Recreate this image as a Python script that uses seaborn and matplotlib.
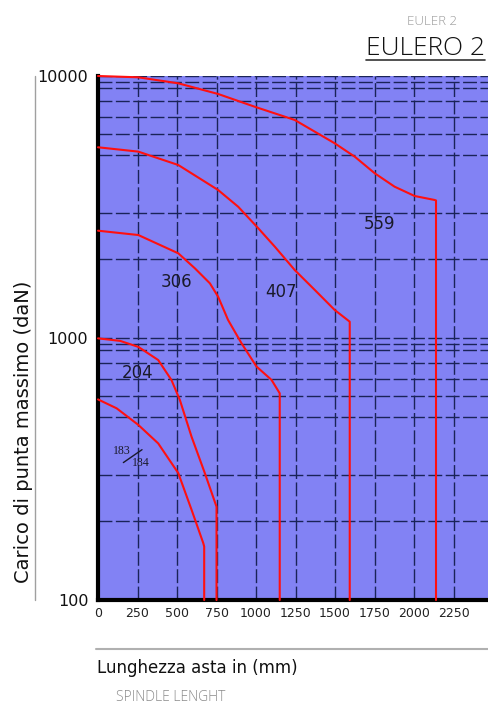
import matplotlib
matplotlib.use("Agg")
import matplotlib.pyplot as plt
import seaborn as sns
from matplotlib.lines import Line2D
from matplotlib.ticker import NullFormatter

sns.set_theme(style="white")
plt.rcParams['font.family'] = ['DejaVu Sans']

# ---- data ----
c559_x = [0, 255, 508, 760, 992, 1245, 1498, 1625, 1751, 1877, 2004, 2130, 2139, 2139]
c559_y = [10000, 9886, 9378, 8539, 7632, 6795, 5535, 4920, 4254, 3780, 3483, 3364, 3350, 100]

c407_x = [0, 255, 508, 760, 887, 1014, 1119, 1245, 1372, 1498, 1593, 1593]
c407_y = [5345, 5145, 4574, 3672, 3170, 2624, 2231, 1817, 1525, 1279, 1154, 100]

c306_x = [0, 255, 508, 613, 708, 760, 823, 908, 1003, 1098, 1150, 1150]
c306_y = [2568, 2472, 2105, 1845, 1617, 1438, 1172, 955, 778, 692, 615, 100]

c204_x = [0, 140, 255, 381, 465, 518, 592, 676, 750, 750]
c204_y = [997, 975, 925, 824, 691, 580, 420, 305, 227, 100]

c183_x = [0, 118, 255, 381, 508, 592, 666, 672, 672]
c183_y = [583, 539, 466, 396, 305, 221, 165, 160, 100]

curves = [(c559_x, c559_y), (c407_x, c407_y), (c306_x, c306_y),
          (c204_x, c204_y), (c183_x, c183_y)]

labels = ["559", "407", "306", "204"]
label_x = [1783, 1161, 497, 251]
label_y = [2723, 1500, 1630, 735]

x_ticks = [0, 250, 500, 750, 1000, 1250, 1500, 1750, 2000, 2250]
y_ticks = [100, 1000, 10000]
y_grid = [10000, 9500, 9000, 8000, 7000, 6000, 5000, 3000, 2000,
          1000, 950, 900, 800, 700, 600, 500, 300, 200]

W, H = 488, 704
fig = plt.figure(figsize=(W / 100, H / 100), dpi=100)
fig.patch.set_facecolor("white")
ax = fig.add_axes([98 / W, 1 - 600 / H, 1 - 98 / W, (600 - 76) / H])
ax.set_facecolor("#8282f4")

for xs, ys in curves:
    sns.lineplot(x=xs, y=ys, ax=ax, sort=False, estimator=None,
                 color="#ff1010", linewidth=1.5, zorder=5)
for line in ax.get_lines():
    line.set_clip_on(False)
    line.set_solid_joinstyle("round")

ax.set_yscale("log")
ax.set_ylim(100, 10000)
ax.set_xlim(0, 2468)

ax.set_xticks(x_ticks)
ax.set_xticklabels([str(v) for v in x_ticks], fontsize=9, color="#222222")
ax.set_yticks(y_ticks)
ax.set_yticklabels([str(v) for v in y_ticks], fontsize=11.5, color="#111111")
ax.set_yticks(y_grid, minor=True)
ax.yaxis.set_minor_formatter(NullFormatter())
ax.tick_params(axis="both", which="both", length=0)
ax.tick_params(axis="y", pad=7)
ax.tick_params(axis="x", pad=5)

ax.grid(True, axis="x", which="major", color="#1a2358", linewidth=1.0,
        linestyle=(0, (10, 2.5)))
ax.grid(True, axis="y", which="both", color="#1a2358", linewidth=1.0,
        linestyle=(0, (10, 2.5)))
ax.set_axisbelow(True)

for s in ["top", "right"]:
    ax.spines[s].set_visible(False)
for s in ["left", "bottom"]:
    ax.spines[s].set_visible(True)
    ax.spines[s].set_color("black")
    ax.spines[s].set_linewidth(3)
ax.set_xlabel("")
ax.set_ylabel("")

for t, lx, ly in zip(labels, label_x, label_y):
    ax.text(lx, ly, t, fontsize=12, color="#1a1a2a", ha="center", va="center", zorder=6)

serif = ["Liberation Serif", "DejaVu Serif"]
ax.text(150, 372, "183", fontsize=8.5, family=serif, color="#1a1a2a",
        ha="center", va="center", zorder=6)
ax.text(272, 334, "184", fontsize=8.5, family=serif, color="#1a1a2a",
        ha="center", va="center", zorder=6)
ax.annotate("", xy=(293, 380), xytext=(146, 330),
            arrowprops=dict(arrowstyle="-", color="#1a1a2a", lw=1.0), zorder=6)

light = ["Open Sans", "Lato", "DejaVu Sans"]
# titles
fig.text(432 / W, 1 - 25 / H, "EULER 2", fontsize=9.5, family=light,
         fontweight="light", color="#9a9a9a", ha="center", va="baseline")
tt = fig.text(485 / W, 1 - 55 / H, "EULERO 2", fontsize=19, family=light,
              fontweight="light", color="#111111", ha="right", va="baseline")
fig.canvas.draw()
bb = tt.get_window_extent().transformed(fig.transFigure.inverted())
fig.add_artist(Line2D([bb.x0, bb.x1], [1 - 59.5 / H] * 2, color="#333333",
                      linewidth=1.2, transform=fig.transFigure))

# y label with side rule
fig.text(24 / W, 1 - 432 / H, "Carico di punta massimo (daN)", fontsize=14,
         rotation=90, ha="center", va="center", color="#111111")
fig.add_artist(Line2D([35 / W, 35 / W], [1 - 76 / H, 1 - 600 / H],
                      color="#a0a0a0", linewidth=1.0, transform=fig.transFigure))

# x label with rule
fig.add_artist(Line2D([96 / W, 1.0], [1 - 649 / H] * 2,
                      color="#b0b0b0", linewidth=1.5, transform=fig.transFigure))
fig.text(97 / W, 1 - 673 / H, "Lunghezza asta in (mm)", fontsize=12,
         ha="left", va="baseline", color="#111111")
fig.text(116 / W, 1 - 701 / H, "SPINDLE LENGHT", fontsize=10, family=light,
         fontweight="light", ha="left", va="baseline", color="#8a8a8a")

fig.savefig("out.png", dpi=100, facecolor="white")
